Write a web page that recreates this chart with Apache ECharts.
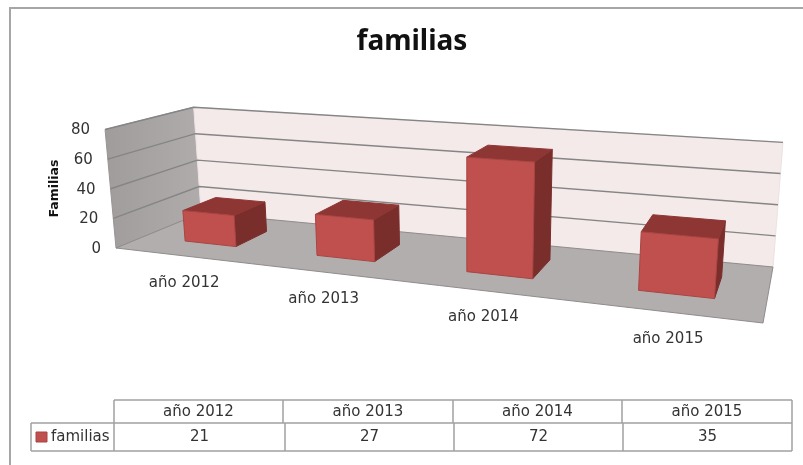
<!DOCTYPE html>
<html>
<head>
<meta charset="utf-8">
<title>familias</title>
<script src="https://cdn.jsdelivr.net/npm/echarts@6/dist/echarts.min.js"></script>
<style>
  html, body { margin: 0; padding: 0; background: #fff; }
  #chart { width: 803px; height: 465px; }
</style>
</head>
<body>
<div id="chart"></div>
<script>
const categories = ['año 2012', 'año 2013', 'año 2014', 'año 2015']
const familias = [21, 27, 72, 35]
const yTicks = [0, 20, 40, 60, 80]
const seriesName = 'familias'

const FONT = '"DejaVu Sans", sans-serif'
const TEXT = '#333'
const LINE = '#a0a0a0'

// floor of the 3D box on screen: front-left, front-right, back-right, back-left
const FLOOR = [[116, 248], [763, 323], [773, 267], [201, 213]]
// verticals converge on this point below the picture
const VANISH = [469, 4068]
// full height of the box at a floor point, fitted on the visible corners
const boxHeight = (p) => 119 - 0.0015 * (p[0] - 116) + 0.3677 * (p[1] - 248)
// the bars sit slightly right of the band centres
const BAR_SHIFT = 0.01

// unit square -> quad
function homography(q) {
  const [p0, p1, p2, p3] = q
  const dx1 = p1[0] - p2[0], dx2 = p3[0] - p2[0], sx = p0[0] - p1[0] + p2[0] - p3[0]
  const dy1 = p1[1] - p2[1], dy2 = p3[1] - p2[1], sy = p0[1] - p1[1] + p2[1] - p3[1]
  const det = dx1 * dy2 - dx2 * dy1
  const g = (sx * dy2 - dx2 * sy) / det
  const h = (dx1 * sy - sx * dy1) / det
  const a = p1[0] - p0[0] + g * p1[0], b = p3[0] - p0[0] + h * p3[0]
  const d = p1[1] - p0[1] + g * p1[1], e = p3[1] - p0[1] + h * p3[1]
  return (u, w) => {
    const t = g * u + h * w + 1
    return [(a * u + b * w + p0[0]) / t, (d * u + e * w + p0[1]) / t]
  }
}
const floorAt = homography(FLOOR)

// u: 0..1 along categories, v: 0..1 along the value axis, w: 0 front .. 1 back
function project(u, v, w) {
  const p = floorAt(u, w)
  const dx = p[0] - VANISH[0], dy = p[1] - VANISH[1]
  const len = Math.sqrt(dx * dx + dy * dy)
  const h = boxHeight(p) * v
  return [p[0] + dx / len * h, p[1] + dy / len * h]
}

function toUnit(cs, pt) {
  return [(pt[0] - cs.x) / cs.width, (cs.y + cs.height - pt[1]) / cs.height]
}

const poly = (points, fill, stroke) => ({
  type: 'polygon',
  shape: { points },
  style: { fill, stroke: stroke || fill, lineWidth: 1 },
})

function renderFrame() {
  return {
    type: 'group',
    children: [
      poly([project(0, 0, 0), project(0, 1, 0), project(0, 1, 1), project(0, 0, 1)],
        new echarts.graphic.LinearGradient(0, 0, 1, 0, [
          { offset: 0, color: '#a09c9c' },
          { offset: 1, color: '#b0acac' },
        ]), '#999595'),
      poly([project(0, 0, 1), project(0, 1, 1), project(1, 1, 1), project(1, 0, 1)], '#f5eaea', '#ece2e2'),
      poly([project(0, 0, 0), project(1, 0, 0), project(1, 0, 1), project(0, 0, 1)], '#b3aeae', '#908c8c'),
    ],
  }
}

function renderTick(params, api) {
  const cs = params.coordSys
  const v = toUnit(cs, api.coord([0, api.value(0)]))[1]
  const front = project(0, v, 0)
  const children = [{
    type: 'text',
    style: {
      text: String(api.value(0)), x: front[0] - 15, y: front[1] + 1,
      align: 'right', verticalAlign: 'middle', fill: TEXT, font: '15px ' + FONT,
    },
  }]
  if (v > 0) {
    children.push({
      type: 'polyline',
      shape: { points: [front, project(0, v, 1), project(1, v, 1)] },
      style: { fill: 'none', stroke: '#858585', lineWidth: 1.4 },
    })
  }
  return { type: 'group', children }
}

function renderBar(params, api) {
  const cs = params.coordSys
  const i = api.value(0)
  const u = toUnit(cs, api.coord([i, 0]))[0] + BAR_SHIFT
  const half = api.size([1, 0])[0] / cs.width * 0.2
  const v = toUnit(cs, api.coord([i, api.value(1)]))[1]
  const l = u - half, r = u + half
  const w0 = 0.3, w1 = 0.7
  return {
    type: 'group',
    children: [
      poly([project(r, 0, w0), project(r, v, w0), project(r, v, w1), project(r, 0, w1)], '#7a2e2c'),
      poly([project(l, v, w0), project(r, v, w0), project(r, v, w1), project(l, v, w1)], '#8e3634'),
      poly([project(l, 0, w0), project(r, 0, w0), project(r, v, w0), project(l, v, w0)], '#c0504d', '#a84543'),
    ],
  }
}

function renderCategory(params, api) {
  const u = toUnit(params.coordSys, api.coord([api.value(0), 0]))[0] + BAR_SHIFT
  const p = project(u, 0, 0)
  return {
    type: 'text',
    style: {
      text: categories[api.value(0)], x: p[0], y: p[1] + 27,
      align: 'center', verticalAlign: 'middle', fill: TEXT, font: '15px ' + FONT,
    },
  }
}

// data table under the chart
function tableGraphics() {
  const head = [114, 283, 453, 622, 792]
  const body = [31, 114, 285, 454, 623, 792]
  const top = 400, mid = 423, bottom = 451
  const el = []
  const line = (x1, y1, x2, y2) => el.push({
    type: 'line',
    shape: { x1, y1, x2, y2 },
    style: { stroke: LINE, lineWidth: 1.5 },
  })
  const text = (s, x, y, align) => el.push({
    type: 'text',
    style: { text: s, x, y, align: align || 'center', verticalAlign: 'middle', fill: TEXT, font: '15px ' + FONT },
  })
  line(114, top, 792, top)
  line(31, mid, 792, mid)
  line(31, bottom, 792, bottom)
  head.forEach((x) => line(x, top, x, mid))
  body.forEach((x) => line(x, mid, x, bottom))
  categories.forEach((c, i) => {
    text(c, (head[i] + head[i + 1]) / 2, 412)
    text(String(familias[i]), (body[i + 1] + body[i + 2]) / 2, 437)
  })
  el.push({
    type: 'rect',
    shape: { x: 36, y: 432, width: 11, height: 10 },
    style: { fill: '#c0504d', stroke: '#a84543', lineWidth: 1 },
  })
  text(seriesName, 51, 437, 'left')
  return el
}

const chart = echarts.init(document.getElementById('chart'), null, { renderer: 'canvas' })

chart.setOption({
  animation: false,
  backgroundColor: '#fff',
  title: {
    text: seriesName,
    left: 407,
    top: 23,
    textAlign: 'center',
    textStyle: { fontFamily: '"Noto Sans", sans-serif', fontSize: 28, fontWeight: 'bold', color: '#111' },
  },
  grid: { left: 116, top: 129, width: 647, height: 119 },
  xAxis: { type: 'category', data: categories, show: false },
  yAxis: {
    type: 'value',
    min: 0,
    max: 80,
    interval: 20,
    name: 'Familias',
    nameLocation: 'middle',
    nameRotate: 90,
    nameGap: 55,
    nameTextStyle: { fontFamily: FONT, fontSize: 12.5, fontWeight: 'bold', color: '#111' },
    axisLabel: { show: false },
    axisLine: { show: false },
    axisTick: { show: false },
    splitLine: { show: false },
  },
  graphic: [
    {
      type: 'polyline',
      shape: { points: [[10, 465], [10, 8], [803, 8]] },
      style: { fill: 'none', stroke: '#a6a6a6', lineWidth: 2 },
    },
    ...tableGraphics(),
  ],
  series: [
    { type: 'custom', name: 'frame', data: [0], renderItem: renderFrame, z: 1, silent: true },
    { type: 'custom', name: 'ticks', data: yTicks.map((t) => [t]), encode: { y: 0 }, renderItem: renderTick, z: 2, silent: true },
    {
      type: 'custom',
      name: seriesName,
      data: familias.map((v, i) => [i, v]),
      encode: { x: 0, y: 1 },
      renderItem: renderBar,
      z: 3,
    },
    {
      type: 'custom',
      name: 'categories',
      data: categories.map((c, i) => [i]),
      encode: { x: 0 },
      renderItem: renderCategory,
      z: 4,
      silent: true,
    },
  ],
})
</script>
</body>
</html>
